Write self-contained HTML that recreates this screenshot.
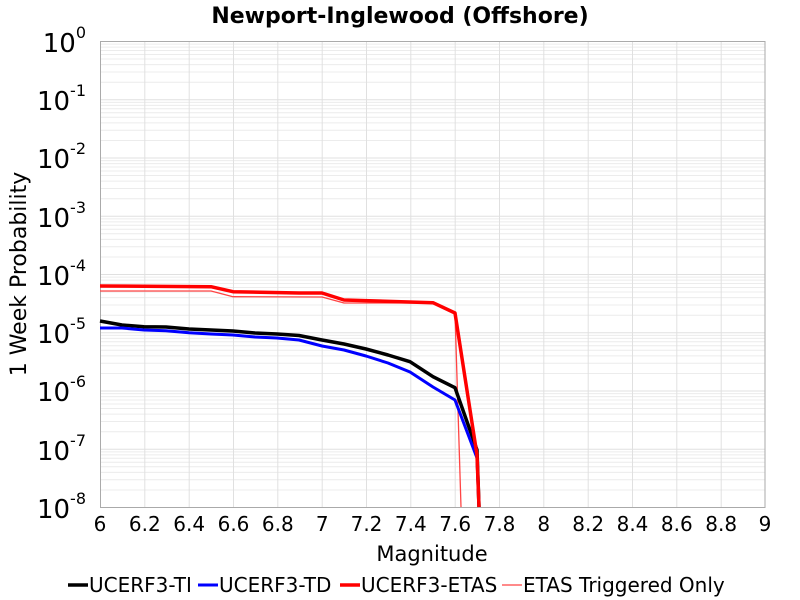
<!DOCTYPE html>
<html><head><style>body{margin:0;background:#fff}svg{display:block;font-family:"DejaVu Sans","Liberation Sans",sans-serif}</style></head><body>
<svg width="800" height="600" viewBox="0 0 800 600">
<defs>
<g id="mg" stroke="#ececec" stroke-width="1">
<line x1="100" x2="765" y1="-17.5" y2="-17.5"/><line x1="100" x2="765" y1="-27.8" y2="-27.8"/><line x1="100" x2="765" y1="-35.1" y2="-35.1"/><line x1="100" x2="765" y1="-40.7" y2="-40.7"/><line x1="100" x2="765" y1="-45.3" y2="-45.3"/><line x1="100" x2="765" y1="-49.2" y2="-49.2"/><line x1="100" x2="765" y1="-52.6" y2="-52.6"/><line x1="100" x2="765" y1="-55.6" y2="-55.6"/>
</g>
</defs>
<rect x="100.5" y="41.5" width="664.5" height="466" fill="#fff"/>
<use href="#mg" y="99.75"/><use href="#mg" y="158"/><use href="#mg" y="216.25"/><use href="#mg" y="274.5"/><use href="#mg" y="332.75"/><use href="#mg" y="391"/><use href="#mg" y="449.25"/><use href="#mg" y="507.5"/>
<g stroke="#e0e0e0">
<line x1="100" x2="765" y1="99.75" y2="99.75"/><line x1="100" x2="765" y1="158" y2="158"/><line x1="100" x2="765" y1="216.25" y2="216.25"/><line x1="100" x2="765" y1="274.5" y2="274.5"/><line x1="100" x2="765" y1="332.75" y2="332.75"/><line x1="100" x2="765" y1="391" y2="391"/><line x1="100" x2="765" y1="449.25" y2="449.25"/>
<line x1="144.8" x2="144.8" y1="41" y2="507"/><line x1="189.2" x2="189.2" y1="41" y2="507"/><line x1="233.5" x2="233.5" y1="41" y2="507"/><line x1="277.8" x2="277.8" y1="41" y2="507"/><line x1="322.2" x2="322.2" y1="41" y2="507"/><line x1="366.5" x2="366.5" y1="41" y2="507"/><line x1="410.8" x2="410.8" y1="41" y2="507"/><line x1="455.2" x2="455.2" y1="41" y2="507"/><line x1="499.5" x2="499.5" y1="41" y2="507"/><line x1="543.8" x2="543.8" y1="41" y2="507"/><line x1="588.2" x2="588.2" y1="41" y2="507"/><line x1="632.5" x2="632.5" y1="41" y2="507"/><line x1="676.8" x2="676.8" y1="41" y2="507"/><line x1="721.2" x2="721.2" y1="41" y2="507"/>
</g>
<rect x="100.5" y="41.5" width="664.5" height="466" fill="none" stroke="#aaa"/>
<g fill="none" stroke-linejoin="round">
<polyline stroke="#ff4444" stroke-width="1.3" points="100,291 211,291 233,296.7 322,297 344,303 433,303 455,313 461,507"/>
<polyline stroke="#000" stroke-width="3.5" points="100,321 122,325 144,326.7 166,327 189,329 211,330 233,331 255,333 277,334 299,335.5 322,340 344,344 366,349 388,355 410,361.7 433,376.7 455,387.7 477,450 479,507"/>
<polyline stroke="#0000ff" stroke-width="3" points="100,328 122,328 144,330 166,330.7 189,332.7 211,334 233,335 255,337 277,338 299,340 322,346 344,350 366,356 388,363 410,372 433,387 455,400 477,458 479,507"/>
<polyline stroke="#ff0000" stroke-width="3.5" points="100,286 211,286.7 233,291.7 299,293 322,293 344,300 433,302.7 455,313 477,455 479,507"/>
</g>
<text x="400" y="23" text-anchor="middle" font-size="22" font-weight="bold">Newport-Inglewood (Offshore)</text>
<g font-size="26" text-anchor="end">
<text x="86" y="52">10<tspan font-size="16" dy="-14">0</tspan></text>
<text x="86" y="110">10<tspan font-size="16" dy="-14">-1</tspan></text>
<text x="86" y="168">10<tspan font-size="16" dy="-14">-2</tspan></text>
<text x="86" y="227">10<tspan font-size="16" dy="-14">-3</tspan></text>
<text x="86" y="285">10<tspan font-size="16" dy="-14">-4</tspan></text>
<text x="86" y="343">10<tspan font-size="16" dy="-14">-5</tspan></text>
<text x="86" y="401">10<tspan font-size="16" dy="-14">-6</tspan></text>
<text x="86" y="460">10<tspan font-size="16" dy="-14">-7</tspan></text>
<text x="86" y="518">10<tspan font-size="16" dy="-14">-8</tspan></text>
</g>
<g font-size="20" text-anchor="middle">
<text x="100" y="531">6</text><text x="144.8" y="531">6.2</text><text x="189.2" y="531">6.4</text><text x="233.5" y="531">6.6</text><text x="277.8" y="531">6.8</text><text x="322.2" y="531">7</text><text x="366.5" y="531">7.2</text><text x="410.8" y="531">7.4</text><text x="455.2" y="531">7.6</text><text x="499.5" y="531">7.8</text><text x="543.8" y="531">8</text><text x="588.2" y="531">8.2</text><text x="632.5" y="531">8.4</text><text x="676.8" y="531">8.6</text><text x="721.2" y="531">8.8</text><text x="765" y="531">9</text>
</g>
<text x="432" y="561" text-anchor="middle" font-size="21">Magnitude</text>
<text transform="translate(26,274) rotate(-90)" text-anchor="middle" font-size="22">1 Week Probability</text>
<g font-size="20">
<line x1="68" x2="88" y1="585" y2="585" stroke="#000" stroke-width="3.5"/><text x="89" y="592">UCERF3-TI</text>
<line x1="198" x2="218" y1="585" y2="585" stroke="#00f" stroke-width="3"/><text x="219" y="592">UCERF3-TD</text>
<line x1="340" x2="360" y1="585" y2="585" stroke="#f00" stroke-width="3.5"/><text x="361" y="592">UCERF3-ETAS</text>
<line x1="502" x2="522" y1="585" y2="585" stroke="#f44" stroke-width="1.3"/><text x="523" y="592">ETAS Triggered Only</text>
</g>
</svg>
</body></html>
